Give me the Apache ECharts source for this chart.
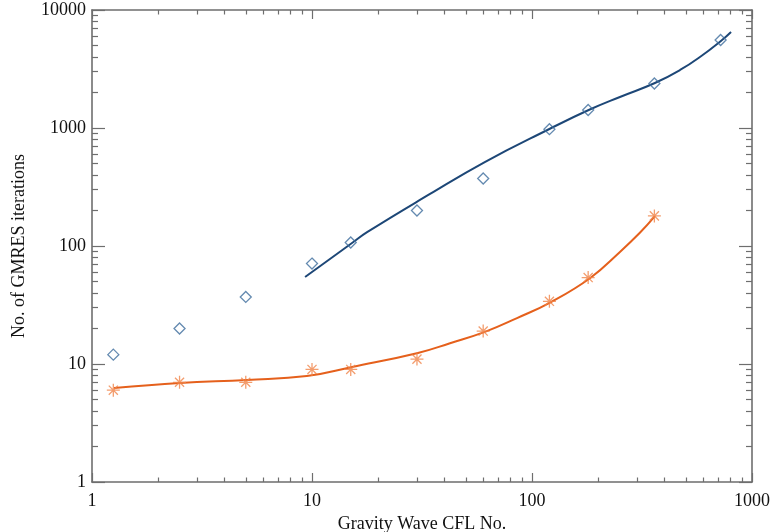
<!DOCTYPE html>
<html>
<head>
<meta charset="utf-8">
<script src="https://cdn.jsdelivr.net/npm/echarts@6/dist/echarts.min.js"></script>
<style>html,body{margin:0;padding:0;background:#fff}#c{width:771px;height:532px}</style>
</head>
<body>
<div id="c"></div>
<script>
// Measured points (diamonds, blue)
const cflBlue = [1.25, 2.5, 5, 10, 15, 30, 60, 120, 180, 360, 720];
const itersBlue = [12, 20, 37, 71, 107, 200, 373, 977, 1420, 2385, 5570];
// Measured points (asterisks, orange)
const cflOrange = [1.25, 2.5, 5, 10, 15, 30, 60, 120, 180, 360];
const itersOrange = [6, 7, 7, 9, 9, 11, 19, 34, 54, 180];
// Fitted curves
const fitBlueCfl = [9.3, 15.2, 17.8, 34.4, 61, 120, 181, 251, 362, 471, 580, 731, 803];
const fitBlueIters = [54.6, 106, 131, 276, 515, 981, 1420, 1832, 2405, 3102, 3998, 5570, 6510];
const fitOrangeCfl = [1.26, 2.51, 5.06, 9.47, 15.2, 30.3, 42.4, 61.1, 85.5, 122, 184, 251, 310, 362];
const fitOrangeIters = [6.26, 6.9, 7.33, 7.9, 9.43, 12.4, 15.0, 18.7, 24.5, 33.5, 53.6, 89, 130, 179];
// Axis ranges / tick labels
const xDecades = [1, 10, 100, 1000];
const yDecades = [1, 10, 100, 1000, 10000];

function minorLogs(nDec) {
  const out = [];
  for (let n = 0; n < nDec; n++) for (let k = 2; k <= 9; k++) out.push(n + Math.log10(k));
  return out;
}
const zip = (a, b) => a.map((v, i) => [v, b[i]]);

const AX = '#6e6e6e';
const FONT = 'Liberation Serif';
const labelStyle = { fontFamily: FONT, fontSize: 18, color: '#111', formatter: v => String(v) };

function logAxis(pos, min, max, showLabel, majorLen, extra) {
  return Object.assign({
    type: 'log', logBase: 10, min: min, max: max, position: pos,
    axisLine: { show: true, onZero: false, lineStyle: { color: AX, width: 1.6 } },
    axisTick: { show: true, inside: true, length: majorLen, lineStyle: { color: AX, width: 1.2 } },
    axisLabel: Object.assign({ show: showLabel, margin: 10 }, labelStyle),
    splitLine: { show: false }, minorTick: { show: false }
  }, extra || {});
}
function minorAxis(pos, nDec, len) {
  return {
    type: 'value', min: 0, max: nDec, position: pos,
    axisLine: { show: false, onZero: false },
    axisTick: { show: true, inside: true, length: len, customValues: minorLogs(nDec), lineStyle: { color: AX, width: 1.2 } },
    axisLabel: { show: false }, splitLine: { show: false }
  };
}

const chart = echarts.init(document.getElementById('c'), null, { renderer: 'canvas' });
chart.setOption({
  animation: false,
  backgroundColor: '#fff',
  grid: { left: 92, right: 19, top: 10, bottom: 50, containLabel: false, outerBoundsMode: 'none' },
  xAxis: [
    logAxis('bottom', xDecades[0], xDecades[xDecades.length - 1], true, 9, {
      name: 'Gravity Wave CFL No.', nameLocation: 'middle', nameGap: 31,
      nameTextStyle: { fontFamily: FONT, fontSize: 18, color: '#111' }
    }),
    logAxis('top', xDecades[0], xDecades[xDecades.length - 1], false, 9),
    minorAxis('bottom', xDecades.length - 1, 4.5),
    minorAxis('top', xDecades.length - 1, 4.5)
  ],
  yAxis: [
    logAxis('left', yDecades[0], yDecades[yDecades.length - 1], true, 13, {
      name: 'No. of GMRES iterations', nameLocation: 'middle', nameGap: 64, nameRotate: 90,
      nameTextStyle: { fontFamily: FONT, fontSize: 18, color: '#111' },
      axisLabel: Object.assign({ show: true, margin: 6 }, labelStyle)
    }),
    logAxis('right', yDecades[0], yDecades[yDecades.length - 1], false, 13),
    minorAxis('left', yDecades.length - 1, 6),
    minorAxis('right', yDecades.length - 1, 6)
  ],
  series: [
    {
      type: 'line', xAxisIndex: 0, yAxisIndex: 0, data: zip(fitBlueCfl, fitBlueIters),
      smooth: 0.45, showSymbol: false, lineStyle: { color: '#1d4777', width: 2 }, z: 2
    },
    {
      type: 'line', xAxisIndex: 0, yAxisIndex: 0, data: zip(fitOrangeCfl, fitOrangeIters),
      smooth: 0.45, showSymbol: false, lineStyle: { color: '#e5601c', width: 2 }, z: 2
    },
    {
      type: 'scatter', xAxisIndex: 0, yAxisIndex: 0, data: zip(cflBlue, itersBlue),
      symbol: 'diamond', symbolSize: [11, 11],
      itemStyle: { color: 'rgba(255,255,255,0)', borderColor: '#3d6d9c', borderWidth: 1.3 }, z: 3
    },
    {
      type: 'scatter', xAxisIndex: 0, yAxisIndex: 0, data: zip(cflOrange, itersOrange),
      symbol: 'path://M10,0L10,20M0,10L20,10M3,3L17,17M3,17L17,3', symbolSize: 13,
      itemStyle: { color: 'rgba(255,255,255,0)', borderColor: '#f0854a', borderWidth: 1.3 }, z: 3
    }
  ]
});
</script>
</body>
</html>
